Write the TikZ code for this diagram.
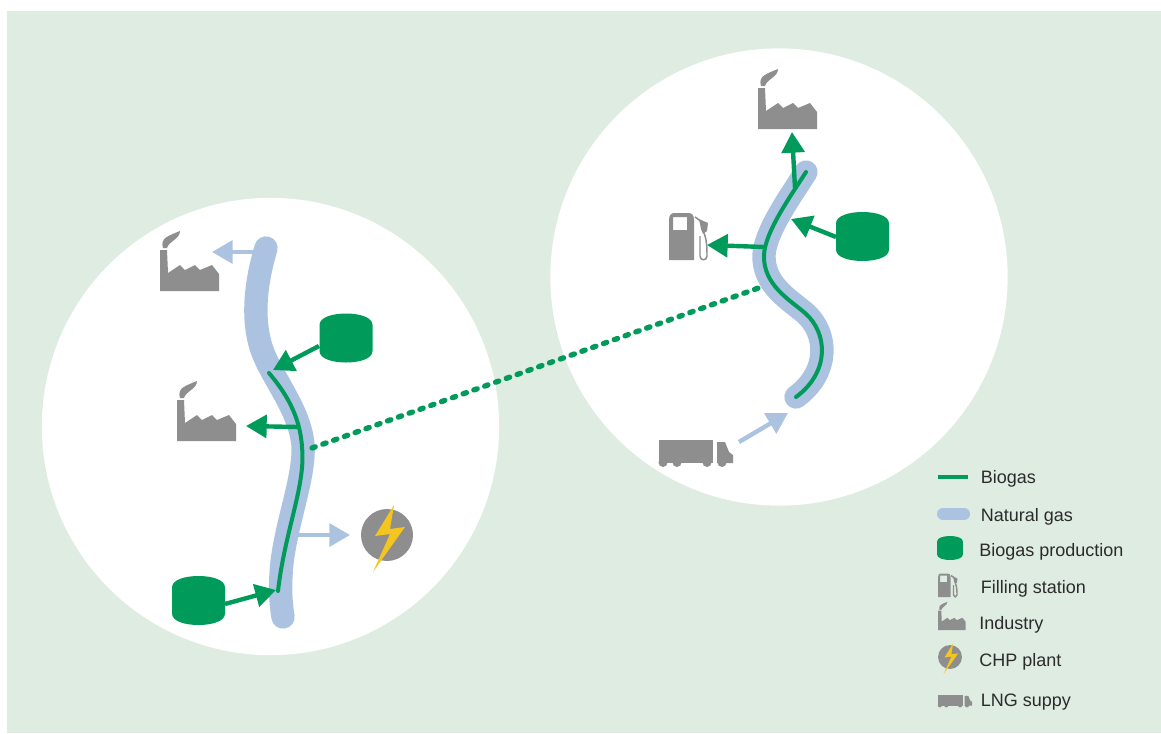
\documentclass[tikz,border=0pt]{standalone}
\usepackage{fontspec}
\setmainfont{Liberation Sans}
\usetikzlibrary{arrows.meta}
\definecolor{paddle}{HTML}{DFECE1}
\definecolor{cgas}{HTML}{ABC2E1}
\definecolor{cbio}{HTML}{009B5A}
\definecolor{ink}{HTML}{2B2B2B}
\definecolor{iconfill}{HTML}{8E8E8E}
\definecolor{cbolt}{HTML}{F4C51F}

\begin{document}
\begin{tikzpicture}[
  x=0.75pt, y=-0.75pt,
  zone/.style={circle, fill=white, inner sep=0pt, minimum size=343pt},
  gaspipe/.style={draw=cgas, line width=17.5pt, line cap=round, line join=round},
  biopipe/.style={draw=cbio, line width=3pt, line cap=round, line join=round},
  gasflow/.style={-{Triangle[length=15.5pt, width=17pt]}, draw=cgas, fill=cgas, line width=3.3pt},
  bioflow/.style={-{Triangle[length=15.5pt, width=17pt]}, draw=cbio, fill=cbio, line width=3.3pt},
  link/.style={draw=cbio, line width=4pt, line cap=round, dash pattern=on 2.6pt off 6pt},
  entry/.style={anchor=base west, inner sep=0pt, text=ink, font=\fontsize{13.5}{15}\selectfont},
  tank/.pic={
    \fill[cbio] (-26.5,-13) .. controls (-26.5,-21) and (-13,-24.5) .. (0,-24.5)
      .. controls (13,-24.5) and (26.5,-21) .. (26.5,-13) -- (26.5,13)
      .. controls (26.5,21) and (13,24.5) .. (0,24.5)
      .. controls (-13,24.5) and (-26.5,21) .. (-26.5,13) -- cycle;
  },
  factory/.pic={
    \fill[iconfill] (0,0) -- (59,0) -- (59,-17) -- (52,-26) -- (40,-21) -- (35,-26)
      -- (25,-21) -- (20,-26) -- (8,-18) -- (7,-41) -- (0,-41) -- cycle;
    \fill[iconfill] (3,-43) .. controls (0,-53) and (8,-55) .. (20,-60)
      .. controls (20,-52) and (9,-50) .. (7,-43) -- cycle;
  },
  pump/.pic={
    \fill[iconfill, even odd rule] (0,0) -- (0,-40) .. controls (0,-46) and (3,-47) .. (6,-47)
      -- (19,-47) .. controls (23,-47) and (25,-45) .. (25,-40) -- (25,0) -- cycle
      (4,-30) rectangle (18,-43);
    \draw[iconfill, line width=1.1pt] (26,-43) -- (33,-38) (35,-27) .. controls (38,-20) and (38,-10) .. (38,-4)
      .. controls (38,1) and (31,1) .. (31,-4) -- (31,-24);
    \fill[iconfill] (30,-41) -- (39,-37) -- (38,-29) -- (34,-26) -- (32,-31) -- cycle;
  },
  chp/.pic={
    \fill[iconfill] (0,0) circle[radius=26];
    \fill[cbolt] (7,-30) -- (-12,1) -- (3,-1) -- (-14,37) -- (18,-8) -- (3,-6) -- cycle;
  },
  truck/.pic={
    \fill[iconfill] (0,0) rectangle (54,23);
    \fill[iconfill] (58,2) -- (66,2) -- (70,12) -- (74,15) -- (74,23) -- (58,23) -- cycle;
    \foreach \wx in {4,18,48,63}
      \fill[iconfill] (\wx,22.5) circle[radius=4.5];
  },
]
\useasboundingbox (0,0) rectangle (1161,733);
\fill[paddle] (7,11) rectangle (1161,733);

% ---- Areas ------------------------------------------------------------------
\node[zone] (leftzone) at (270.5,426.5) {};
\node[zone] (rightzone) at (779,277) {};

% ---- Pipelines --------------------------------------------------------------
\draw[gaspipe] (266,248) .. controls (258,275) and (250,315) .. (262,350)
  .. controls (272,378) and (300,410) .. (303,445)
  .. controls (305,480) and (283,530) .. (281,575)
  .. controls (280,590) and (281,605) .. (283,617);
\draw[gaspipe] (806,172) .. controls (790,197) and (765,232) .. (764,255)
  .. controls (763,285) and (790,300) .. (805,313)
  .. controls (828,333) and (830,372) .. (796,397);
\draw[biopipe] (269,373) .. controls (285,392) and (300,415) .. (302,447)
  .. controls (306,485) and (285,530) .. (278,591);
\draw[biopipe] (806,172) .. controls (790,197) and (765,232) .. (764,255)
  .. controls (763,285) and (790,300) .. (805,313)
  .. controls (828,333) and (830,372) .. (796,397);

% ---- Left area --------------------------------------------------------------
\pic at (160,291) {factory};
\pic at (177,441) {factory};
\pic at (346,338) {tank};
\pic at (198.5,600.5) {tank};
\pic at (387,535) {chp};

% ---- Right area -------------------------------------------------------------
\pic at (758,129) {factory};
\pic at (669,260) {pump};
\pic at (862.5,236.5) {tank};
\pic at (659,440) {truck};

% ---- Connector ends ---------------------------------------------------------
\coordinate (pipetop) at (255,252);
\coordinate (factorytop) at (212,252);
\coordinate (tankupper) at (319,346);
\coordinate (pipeupper) at (273,370);
\coordinate (pipemid) at (298,427);
\coordinate (factorymid) at (246,426);
\coordinate (pipechp) at (298,535);
\coordinate (chpin) at (350,535);
\coordinate (tanklower) at (225,604);
\coordinate (pipelower) at (276,590);
\coordinate (pipenorth) at (795,188);
\coordinate (factorynorth) at (792,132);
\coordinate (tankright) at (836,237);
\coordinate (piperight) at (791,219);
\coordinate (pipepump) at (764,247);
\coordinate (pumpin) at (707,245);
\coordinate (truckout) at (739,442);
\coordinate (pipeend) at (788,413);
\coordinate (linkleft) at (312,448);
\coordinate (linkright) at (764,286);

% ---- Arrows -----------------------------------------------------------------
\draw[gasflow] (pipetop) -- (factorytop);
\draw[bioflow] (tankupper) -- (pipeupper);
\draw[bioflow] (pipemid) -- (factorymid);
\draw[gasflow] (pipechp) -- (chpin);
\draw[bioflow] (tanklower) -- (pipelower);
\draw[bioflow] (pipenorth) -- (factorynorth);
\draw[bioflow] (tankright) -- (piperight);
\draw[bioflow] (pipepump) -- (pumpin);
\draw[gasflow] (truckout) -- (pipeend);
\draw[link] (linkleft) -- (linkright);

% ---- Legend -----------------------------------------------------------------
\draw[draw=cbio, line width=3.6pt] (938,477) -- (968,477);
\draw[draw=cgas, line width=9pt, line cap=round] (943,514) -- (964,514);
\pic[scale=0.49] at (950,548) {tank};
\pic[scale=0.5] at (938,597) {pump};
\pic[scale=0.47] at (938,630) {factory};
\pic[scale=0.46] at (950,657) {chp};
\pic[scale=0.46] at (938,695) {truck};
\node[entry] (biogas) at (980.5,483) {Biogas};
\node[entry] (natgas) at (980.5,521.5) {Natural gas};
\node[entry] (bioprod) at (979,556.5) {Biogas production};
\node[entry] (filling) at (980.5,593) {Filling station};
\node[entry] (industry) at (979,629) {Industry};
\node[entry] (chpplant) at (979,666.5) {CHP plant};
\node[entry] (lng) at (980.5,706) {LNG suppy};

\end{tikzpicture}
\end{document}
